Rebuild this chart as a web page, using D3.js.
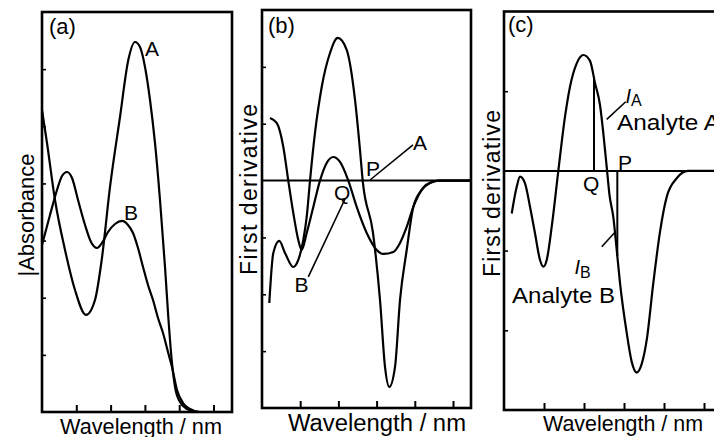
<!DOCTYPE html>
<html>
<head>
<meta charset="utf-8">
<script src="https://cdn.jsdelivr.net/npm/d3@7"></script>
<style>
  body { margin: 0; background: #fff; }
  text { font-family: "Liberation Sans", Arial, Helvetica, sans-serif; fill: #000; }
</style>
</head>
<body>
<svg id="fig" width="714" height="437"></svg>
<script>
// --- data (arbitrary wavelength / signal units) ---
const absA = [
  [0, 5.285], [0.146, 4.708], [0.379, 3.71], [0.671, 2.835], [0.962, 2.135],
  [1.283, 1.698], [1.545, 1.96], [1.74, 2.66], [1.983, 3.938], [2.274, 5.163],
  [2.516, 6.16], [2.711, 6.475], [2.857, 6.388], [3.003, 6.038], [3.149, 5.46],
  [3.294, 4.708], [3.44, 3.71], [3.586, 2.538], [3.682, 1.663], [3.781, 0.91],
  [3.878, 0.438], [4.023, 0.175], [4.227, 0.053], [4.519, 0], [5.539, 0]
];
const absB = [
  [0, 2.923], [0.233, 3.448], [0.437, 3.885], [0.583, 4.13], [0.729, 4.2],
  [0.875, 4.095], [1.05, 3.71], [1.254, 3.273], [1.429, 2.975], [1.603, 2.87],
  [1.749, 2.958], [1.924, 3.15], [2.128, 3.29], [2.332, 3.343], [2.507, 3.273],
  [2.653, 3.133], [2.799, 2.87], [2.945, 2.538], [3.09, 2.223], [3.236, 1.96],
  [3.382, 1.645], [3.528, 1.383], [3.673, 1.05], [3.79, 0.788], [3.936, 0.385],
  [4.111, 0.158], [4.315, 0.053], [4.606, 0], [5.539, 0]
];
const derA = [
  [0.191, -2.153], [0.296, -1.273], [0.453, -1.062], [0.602, -1.273], [0.819, -1.52],
  [0.95, -1.396], [1.081, -1.045], [1.17, -0.64], [1.257, 0], [1.387, 0.837],
  [1.563, 1.646], [1.78, 2.244], [1.982, 2.508], [2.217, 2.297], [2.435, 1.418],
  [2.565, 0.538], [2.636, 0], [2.906, -0.922], [3.089, -2.1], [3.22, -3.278],
  [3.332, -3.63], [3.482, -3.278], [3.613, -2.1], [3.788, -1.221], [3.961, -0.464],
  [4.181, -0.165], [4.398, -0.042], [4.66, 0], [5.471, 0]
];
const derB = [
  [0.209, 1.101], [0.385, 1.013], [0.558, 0.591], [0.688, 0], [0.819, -0.57],
  [0.95, -1.045], [1.039, -1.221], [1.17, -0.922], [1.343, -0.464], [1.518, 0],
  [1.694, 0.31], [1.866, 0.415], [2.042, 0.327], [2.259, 0], [2.479, -0.464],
  [2.741, -0.922], [3.003, -1.221], [3.175, -1.291], [3.437, -1.256], [3.613, -1.097],
  [3.788, -0.816], [3.961, -0.464], [4.215, -0.13], [4.442, -0.025], [4.66, 0], [5.471, 0]
];
const derMix = [
  [0.193, -0.534], [0.318, -0.2], [0.4, -0.073], [0.525, -0.156], [0.65, -0.449],
  [0.775, -0.783], [0.9, -1.118], [0.983, -1.202], [1.068, -1.118], [1.193, -0.7],
  [1.358, 0], [1.525, 0.68], [1.65, 1.057], [1.818, 1.35], [1.983, 1.454],
  [2.15, 1.38], [2.275, 1.103], [2.4, 0.827], [2.475, 0.511], [2.563, 0.073],
  [2.638, -0.303], [2.733, -0.579], [2.818, -0.991], [2.9, -1.405], [3.068, -2.033],
  [3.193, -2.396], [3.318, -2.53], [3.443, -2.421], [3.568, -2.12], [3.733, -1.405],
  [3.9, -0.765], [4.068, -0.326], [4.318, -0.092], [4.6, 0], [5.65, 0]
];
const pointQ = 2.25, pointP = 2.833;   // zero-crossing wavelengths used in (c)

const xTicks = [1, 2, 3, 4, 5];
const yTicksA = [1, 2, 3, 4, 5, 6];
const yTicksB = [-3, -2, -1, 1, 2];
const yTicksC = [-2, -1, 1];

const svg = d3.select("#fig");

// --- one framed panel with inward ticks ---
function panel(p) {
  const x = d3.scaleLinear().domain(p.xd).range([p.left, p.right]);
  const y = d3.scaleLinear().domain(p.yd).range([p.bottom, p.top]);
  const g = svg.append("g");

  g.append("g")
    .attr("transform", `translate(0,${p.bottom})`)
    .call(d3.axisBottom(x).tickValues(xTicks).tickSize(-7).tickFormat(""))
    .call(a => a.select(".domain").remove())
    .selectAll("line").attr("stroke", "#000").attr("stroke-width", 2);

  g.append("g")
    .attr("transform", `translate(${p.left},0)`)
    .call(d3.axisLeft(y).tickValues(p.yTicks).tickSize(-4).tickFormat(""))
    .call(a => a.select(".domain").remove())
    .selectAll("line").attr("stroke", "#000").attr("stroke-width", 1.6);

  g.append("rect")
    .attr("x", p.left).attr("y", p.top)
    .attr("width", p.right - p.left).attr("height", p.bottom - p.top)
    .attr("fill", "none").attr("stroke", "#000").attr("stroke-width", 2.6);

  if (p.zero) {
    g.append("line")
      .attr("x1", p.left).attr("x2", p.right)
      .attr("y1", y(0)).attr("y2", y(0))
      .attr("stroke", "#000").attr("stroke-width", 2);
  }
  return { x, y, g };
}

function curve(P, data) {
  const line = d3.line().x(d => P.x(d[0])).y(d => P.y(d[1])).curve(d3.curveMonotoneX);
  P.g.append("path").attr("d", line(data))
    .attr("fill", "none").attr("stroke", "#000").attr("stroke-width", 2.2);
}

function seg(P, a, b, w) {
  P.g.append("line")
    .attr("x1", P.x(a[0])).attr("y1", P.y(a[1]))
    .attr("x2", P.x(b[0])).attr("y2", P.y(b[1]))
    .attr("stroke", "#000").attr("stroke-width", w || 1.6);
}

function label(x, y, s, size, opts) {
  const t = svg.append("text").attr("x", x).attr("y", y)
    .attr("font-size", size).text(s);
  if (opts && opts.len) t.attr("textLength", opts.len).attr("lengthAdjust", opts.adj || "spacingAndGlyphs");
  return t;
}

function ylabel(x, yStart, s, len) {
  svg.append("text")
    .attr("transform", `translate(${x},${yStart}) rotate(-90)`)
    .attr("font-size", 23)
    .attr("textLength", len).attr("lengthAdjust", "spacing")
    .text(s);
}

function interp(data, xv) {
  const i = d3.bisector(d => d[0]).left(data, xv);
  const a = data[i - 1], b = data[i];
  return a[1] + (b[1] - a[1]) * (xv - a[0]) / (b[0] - a[0]);
}

// --- (a) absorbance ---
const pa = panel({ left: 42, right: 232, top: 12, bottom: 412, xd: [0, 5.539], yd: [0, 7], yTicks: yTicksA });
curve(pa, absA);
curve(pa, absB);
label(49, 34, "(a)", 22);
label(145, 56, "A", 21);
label(124, 220, "B", 21);
label(60, 433.5, "Wavelength / nm", 22.5, { len: 162 });
svg.append("text")
  .attr("transform", "translate(33.5,215) rotate(-90)")
  .attr("font-size", 22).attr("text-anchor", "middle")
  .text("|Absorbance");

// --- (b) first derivative ---
const pb = panel({ left: 262, right: 471, top: 10, bottom: 408, xd: [0, 5.471], yd: [-4, 3], yTicks: yTicksB, zero: true });
curve(pb, derA);
curve(pb, derB);
seg(pb, [2.827, 0.01], [3.953, 0.626]);
seg(pb, [1.212, -1.695], [2.173, -0.324]);
label(268, 33, "(b)", 22);
label(413, 149.5, "A", 21);
label(366, 176, "P", 21);
label(334, 200, "Q", 21);
label(294.5, 292, "B", 21);
label(288, 431, "Wavelength / nm", 23.5, { len: 178 });
ylabel(257, 275, "First derivative", 171);

// --- (c) mixture derivative ---
const pc = panel({ left: 504, right: 730, top: 11.5, bottom: 410, xd: [0, 5.65], yd: [-3, 2], yTicks: yTicksC, zero: true });
curve(pc, derMix);
seg(pc, [pointQ, 0], [pointQ, interp(derMix, pointQ)], 2);
seg(pc, [pointP, 0], [pointP, interp(derMix, pointP)], 2);
seg(pc, [2.568, 0.647], [3.043, 0.868]);
seg(pc, [2.443, -0.951], [2.775, -0.77]);
label(508, 32, "(c)", 22);

const ia = label(625.5, 102.5, "", 20);
ia.append("tspan").attr("font-style", "italic").text("I");
ia.append("tspan").attr("font-size", 16).attr("dy", 3).text("A");
label(617, 130, "Analyte A", 22.5, { len: 103 });

const ib = label(574.5, 273.5, "", 20);
ib.append("tspan").attr("font-style", "italic").text("I");
ib.append("tspan").attr("font-size", 16).attr("dy", 4.5).text("B");
label(512, 302.5, "Analyte B", 22.5, { len: 103 });

label(618, 169.5, "P", 21);
label(583, 191, "Q", 21);
label(543, 431, "Wavelength / nm", 22.5, { len: 160 });
ylabel(499.5, 277, "First derivative", 167);
</script>
</body>
</html>
